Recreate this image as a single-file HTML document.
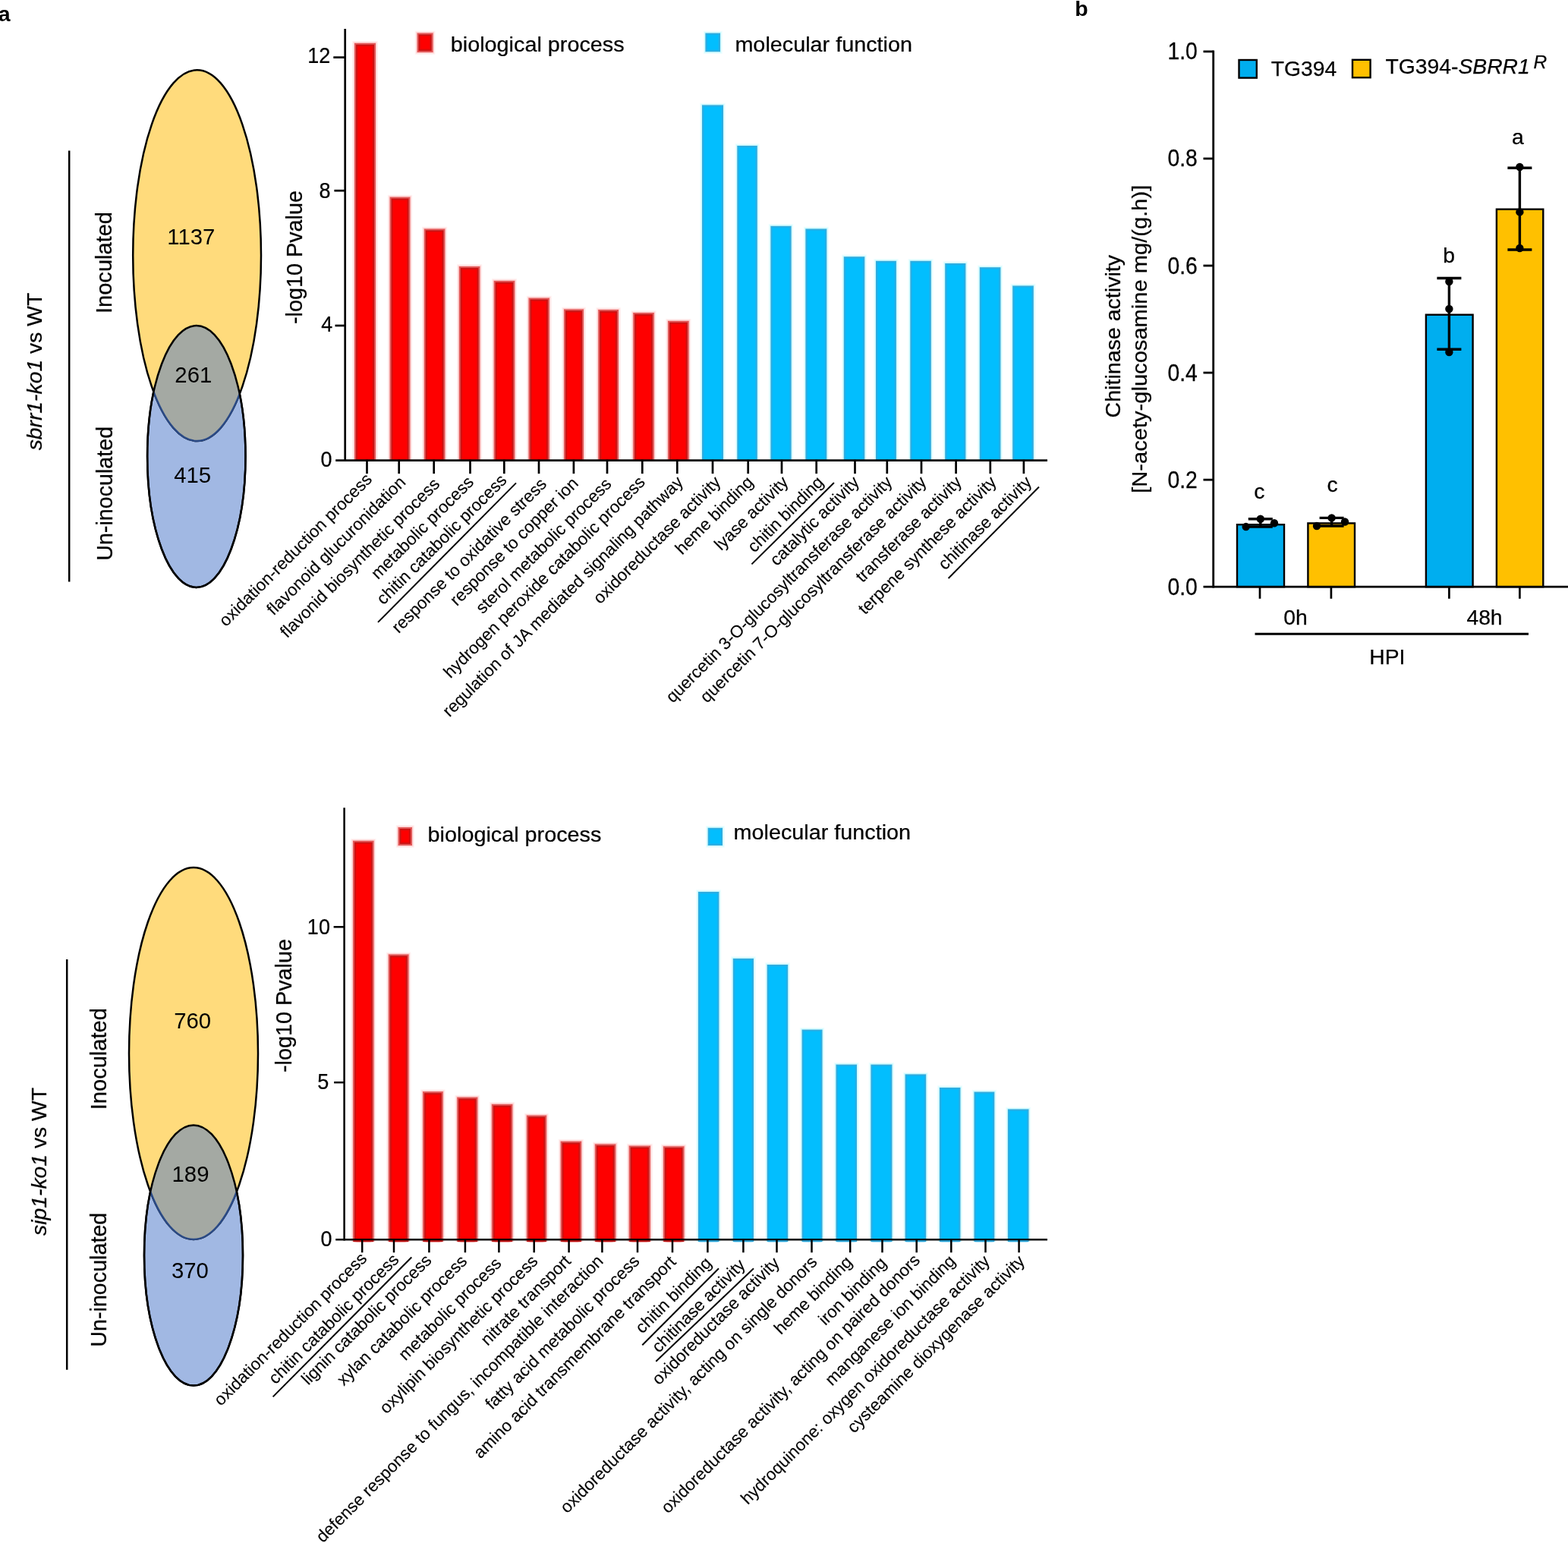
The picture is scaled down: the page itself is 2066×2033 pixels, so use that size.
<!DOCTYPE html>
<html lang="en"><head><meta charset="utf-8"><title>Figure</title>
<style>html,body{margin:0;padding:0;background:#fff}svg{display:block}text{white-space:pre}</style>
</head><body>
<svg width="2066" height="2033" viewBox="0 0 2066 2033" font-family='"Liberation Sans", Arial, Helvetica, sans-serif' fill="#000">
<rect width="2066" height="2033" fill="#fff"/>
<text x="-2.20" y="28.00" font-size="28.5" font-weight="bold">a</text>
<text x="1416.30" y="20.60" font-size="28.5" font-weight="bold">b</text>
<defs><clipPath id="cy1"><ellipse cx="259.6" cy="336.6" rx="84.4" ry="244.4"/></clipPath><clipPath id="cb1"><ellipse cx="258.8" cy="601.5" rx="64.7" ry="172.5"/></clipPath></defs>
<ellipse cx="258.8" cy="601.5" rx="64.7" ry="172.5" fill="#a1b8e3" stroke="#000" stroke-width="2.5"/>
<ellipse cx="259.6" cy="336.6" rx="84.4" ry="244.4" fill="#ffdb7c" stroke="#000" stroke-width="2.5"/>
<ellipse cx="258.8" cy="601.5" rx="64.7" ry="172.5" fill="#a4a9a3" clip-path="url(#cy1)"/>
<ellipse cx="259.6" cy="336.6" rx="84.4" ry="244.4" fill="none" stroke="#2a4a86" stroke-width="2.5" clip-path="url(#cb1)"/>
<ellipse cx="258.8" cy="601.5" rx="64.7" ry="172.5" fill="none" stroke="#000" stroke-width="2.5"/>
<text transform="translate(251.80 322.40) scale(1.0 1.0)" font-size="29.3" text-anchor="middle">1137</text>
<text transform="translate(254.80 503.70) scale(1.0 1.0)" font-size="29.3" text-anchor="middle">261</text>
<text transform="translate(253.70 636.00) scale(1.0 1.0)" font-size="29.3" text-anchor="middle">415</text>
<text transform="translate(147.40 346.00) rotate(-90) scale(0.985 1.0)" font-size="29.5" text-anchor="middle" stroke="#000" stroke-width="0.25">Inoculated</text>
<text transform="translate(147.80 650.30) rotate(-90) scale(0.973 1.0)" font-size="29.5" text-anchor="middle" stroke="#000" stroke-width="0.25">Un-inoculated</text>
<line x1="91.20" y1="198.50" x2="91.20" y2="766.50" stroke="#000" stroke-width="2.5"/>
<text transform="translate(55.20 489.60) rotate(-90)" font-size="28.3" text-anchor="middle" stroke="#000" stroke-width="0.25"><tspan font-style="italic">sbrr1-ko1</tspan> vs WT</text>
<rect x="464.20" y="54.00" width="33.60" height="552.60" fill="#fff1f1"/>
<rect x="465.60" y="55.40" width="30.80" height="551.20" fill="#ffd2d2"/>
<rect x="467.00" y="56.80" width="28.00" height="549.80" fill="#e15858"/>
<rect x="469.00" y="58.80" width="24.00" height="547.80" fill="#c61212"/>
<rect x="470.50" y="60.30" width="21.00" height="546.30" fill="#ea0808"/>
<rect x="471.80" y="61.60" width="18.40" height="545.00" fill="#fe0000"/>
<rect x="510.80" y="256.80" width="32.40" height="349.80" fill="#fff1f1"/>
<rect x="512.20" y="258.20" width="29.60" height="348.40" fill="#ffd2d2"/>
<rect x="513.60" y="259.60" width="26.80" height="347.00" fill="#e15858"/>
<rect x="515.60" y="261.60" width="22.80" height="345.00" fill="#c61212"/>
<rect x="517.10" y="263.10" width="19.80" height="343.50" fill="#ea0808"/>
<rect x="518.40" y="264.40" width="17.20" height="342.20" fill="#fe0000"/>
<rect x="556.00" y="298.70" width="33.20" height="307.90" fill="#fff1f1"/>
<rect x="557.40" y="300.10" width="30.40" height="306.50" fill="#ffd2d2"/>
<rect x="558.80" y="301.50" width="27.60" height="305.10" fill="#e15858"/>
<rect x="560.80" y="303.50" width="23.60" height="303.10" fill="#c61212"/>
<rect x="562.30" y="305.00" width="20.60" height="301.60" fill="#ea0808"/>
<rect x="563.60" y="306.30" width="18.00" height="300.30" fill="#fe0000"/>
<rect x="602.00" y="348.20" width="33.20" height="258.40" fill="#fff1f1"/>
<rect x="603.40" y="349.60" width="30.40" height="257.00" fill="#ffd2d2"/>
<rect x="604.80" y="351.00" width="27.60" height="255.60" fill="#e15858"/>
<rect x="606.80" y="353.00" width="23.60" height="253.60" fill="#c61212"/>
<rect x="608.30" y="354.50" width="20.60" height="252.10" fill="#ea0808"/>
<rect x="609.60" y="355.80" width="18.00" height="250.80" fill="#fe0000"/>
<rect x="647.90" y="367.10" width="33.20" height="239.50" fill="#fff1f1"/>
<rect x="649.30" y="368.50" width="30.40" height="238.10" fill="#ffd2d2"/>
<rect x="650.70" y="369.90" width="27.60" height="236.70" fill="#e15858"/>
<rect x="652.70" y="371.90" width="23.60" height="234.70" fill="#c61212"/>
<rect x="654.20" y="373.40" width="20.60" height="233.20" fill="#ea0808"/>
<rect x="655.50" y="374.70" width="18.00" height="231.90" fill="#fe0000"/>
<rect x="693.70" y="389.80" width="33.00" height="216.80" fill="#fff1f1"/>
<rect x="695.10" y="391.20" width="30.20" height="215.40" fill="#ffd2d2"/>
<rect x="696.50" y="392.60" width="27.40" height="214.00" fill="#e15858"/>
<rect x="698.50" y="394.60" width="23.40" height="212.00" fill="#c61212"/>
<rect x="700.00" y="396.10" width="20.40" height="210.50" fill="#ea0808"/>
<rect x="701.30" y="397.40" width="17.80" height="209.20" fill="#fe0000"/>
<rect x="740.20" y="404.60" width="31.60" height="202.00" fill="#fff1f1"/>
<rect x="741.60" y="406.00" width="28.80" height="200.60" fill="#ffd2d2"/>
<rect x="743.00" y="407.40" width="26.00" height="199.20" fill="#e15858"/>
<rect x="745.00" y="409.40" width="22.00" height="197.20" fill="#c61212"/>
<rect x="746.50" y="410.90" width="19.00" height="195.70" fill="#ea0808"/>
<rect x="747.80" y="412.20" width="16.40" height="194.40" fill="#fe0000"/>
<rect x="785.40" y="405.20" width="32.40" height="201.40" fill="#fff1f1"/>
<rect x="786.80" y="406.60" width="29.60" height="200.00" fill="#ffd2d2"/>
<rect x="788.20" y="408.00" width="26.80" height="198.60" fill="#e15858"/>
<rect x="790.20" y="410.00" width="22.80" height="196.60" fill="#c61212"/>
<rect x="791.70" y="411.50" width="19.80" height="195.10" fill="#ea0808"/>
<rect x="793.00" y="412.80" width="17.20" height="193.80" fill="#fe0000"/>
<rect x="831.40" y="409.20" width="33.20" height="197.40" fill="#fff1f1"/>
<rect x="832.80" y="410.60" width="30.40" height="196.00" fill="#ffd2d2"/>
<rect x="834.20" y="412.00" width="27.60" height="194.60" fill="#e15858"/>
<rect x="836.20" y="414.00" width="23.60" height="192.60" fill="#c61212"/>
<rect x="837.70" y="415.50" width="20.60" height="191.10" fill="#ea0808"/>
<rect x="839.00" y="416.80" width="18.00" height="189.80" fill="#fe0000"/>
<rect x="877.20" y="420.00" width="33.30" height="186.60" fill="#fff1f1"/>
<rect x="878.60" y="421.40" width="30.50" height="185.20" fill="#ffd2d2"/>
<rect x="880.00" y="422.80" width="27.70" height="183.80" fill="#e15858"/>
<rect x="882.00" y="424.80" width="23.70" height="181.80" fill="#c61212"/>
<rect x="883.50" y="426.30" width="20.70" height="180.30" fill="#ea0808"/>
<rect x="884.80" y="427.60" width="18.10" height="179.00" fill="#fe0000"/>
<rect x="922.20" y="135.60" width="33.60" height="471.00" fill="#effeff"/>
<rect x="923.60" y="137.00" width="30.80" height="469.60" fill="#cdfaff"/>
<rect x="925.00" y="138.40" width="28.00" height="468.20" fill="#35abdc"/>
<rect x="926.50" y="139.90" width="25.00" height="466.70" fill="#16b4f0"/>
<rect x="927.80" y="141.20" width="22.40" height="465.40" fill="#02befe"/>
<rect x="968.50" y="189.20" width="32.10" height="417.40" fill="#effeff"/>
<rect x="969.90" y="190.60" width="29.30" height="416.00" fill="#cdfaff"/>
<rect x="971.30" y="192.00" width="26.50" height="414.60" fill="#35abdc"/>
<rect x="972.80" y="193.50" width="23.50" height="413.10" fill="#16b4f0"/>
<rect x="974.10" y="194.80" width="20.90" height="411.80" fill="#02befe"/>
<rect x="1012.60" y="295.00" width="32.80" height="311.60" fill="#effeff"/>
<rect x="1014.00" y="296.40" width="30.00" height="310.20" fill="#cdfaff"/>
<rect x="1015.40" y="297.80" width="27.20" height="308.80" fill="#35abdc"/>
<rect x="1016.90" y="299.30" width="24.20" height="307.30" fill="#16b4f0"/>
<rect x="1018.20" y="300.60" width="21.60" height="306.00" fill="#02befe"/>
<rect x="1058.60" y="298.70" width="33.50" height="307.90" fill="#effeff"/>
<rect x="1060.00" y="300.10" width="30.70" height="306.50" fill="#cdfaff"/>
<rect x="1061.40" y="301.50" width="27.90" height="305.10" fill="#35abdc"/>
<rect x="1062.90" y="303.00" width="24.90" height="303.60" fill="#16b4f0"/>
<rect x="1064.20" y="304.30" width="22.30" height="302.30" fill="#02befe"/>
<rect x="1109.00" y="335.40" width="33.10" height="271.20" fill="#effeff"/>
<rect x="1110.40" y="336.80" width="30.30" height="269.80" fill="#cdfaff"/>
<rect x="1111.80" y="338.20" width="27.50" height="268.40" fill="#35abdc"/>
<rect x="1113.30" y="339.70" width="24.50" height="266.90" fill="#16b4f0"/>
<rect x="1114.60" y="341.00" width="21.90" height="265.60" fill="#02befe"/>
<rect x="1151.20" y="341.00" width="32.50" height="265.60" fill="#effeff"/>
<rect x="1152.60" y="342.40" width="29.70" height="264.20" fill="#cdfaff"/>
<rect x="1154.00" y="343.80" width="26.90" height="262.80" fill="#35abdc"/>
<rect x="1155.50" y="345.30" width="23.90" height="261.30" fill="#16b4f0"/>
<rect x="1156.80" y="346.60" width="21.30" height="260.00" fill="#02befe"/>
<rect x="1196.50" y="341.00" width="33.10" height="265.60" fill="#effeff"/>
<rect x="1197.90" y="342.40" width="30.30" height="264.20" fill="#cdfaff"/>
<rect x="1199.30" y="343.80" width="27.50" height="262.80" fill="#35abdc"/>
<rect x="1200.80" y="345.30" width="24.50" height="261.30" fill="#16b4f0"/>
<rect x="1202.10" y="346.60" width="21.90" height="260.00" fill="#02befe"/>
<rect x="1242.40" y="344.20" width="32.80" height="262.40" fill="#effeff"/>
<rect x="1243.80" y="345.60" width="30.00" height="261.00" fill="#cdfaff"/>
<rect x="1245.20" y="347.00" width="27.20" height="259.60" fill="#35abdc"/>
<rect x="1246.70" y="348.50" width="24.20" height="258.10" fill="#16b4f0"/>
<rect x="1248.00" y="349.80" width="21.60" height="256.80" fill="#02befe"/>
<rect x="1288.00" y="349.40" width="33.20" height="257.20" fill="#effeff"/>
<rect x="1289.40" y="350.80" width="30.40" height="255.80" fill="#cdfaff"/>
<rect x="1290.80" y="352.20" width="27.60" height="254.40" fill="#35abdc"/>
<rect x="1292.30" y="353.70" width="24.60" height="252.90" fill="#16b4f0"/>
<rect x="1293.60" y="355.00" width="22.00" height="251.60" fill="#02befe"/>
<rect x="1331.40" y="373.70" width="33.20" height="232.90" fill="#effeff"/>
<rect x="1332.80" y="375.10" width="30.40" height="231.50" fill="#cdfaff"/>
<rect x="1334.20" y="376.50" width="27.60" height="230.10" fill="#35abdc"/>
<rect x="1335.70" y="378.00" width="24.60" height="228.60" fill="#16b4f0"/>
<rect x="1337.00" y="379.30" width="22.00" height="227.30" fill="#02befe"/>
<line x1="454.70" y1="37.90" x2="454.70" y2="607.95" stroke="#000" stroke-width="2.7"/>
<line x1="442.20" y1="606.60" x2="1380.00" y2="606.60" stroke="#000" stroke-width="2.7"/>
<line x1="439.30" y1="75.60" x2="454.70" y2="75.60" stroke="#000" stroke-width="2.7"/>
<text transform="translate(435.20 83.00) scale(0.9 0.985)" font-size="30" text-anchor="end" stroke="#000" stroke-width="0.25">12</text>
<line x1="440.40" y1="251.20" x2="454.70" y2="251.20" stroke="#000" stroke-width="2.7"/>
<text transform="translate(435.40 260.60) scale(0.9 0.985)" font-size="30" text-anchor="end" stroke="#000" stroke-width="0.25">8</text>
<line x1="441.50" y1="429.00" x2="454.70" y2="429.00" stroke="#000" stroke-width="2.7"/>
<text transform="translate(438.20 436.80) scale(0.9 0.985)" font-size="30" text-anchor="end" stroke="#000" stroke-width="0.25">4</text>
<text transform="translate(437.50 614.80) scale(0.9 0.985)" font-size="30" text-anchor="end" stroke="#000" stroke-width="0.25">0</text>
<line x1="483.50" y1="606.60" x2="483.50" y2="624.10" stroke="#000" stroke-width="2.7"/>
<line x1="525.70" y1="606.60" x2="525.70" y2="624.10" stroke="#000" stroke-width="2.7"/>
<line x1="571.70" y1="606.60" x2="571.70" y2="624.10" stroke="#000" stroke-width="2.7"/>
<line x1="619.50" y1="606.60" x2="619.50" y2="624.10" stroke="#000" stroke-width="2.7"/>
<line x1="664.30" y1="606.60" x2="664.30" y2="624.10" stroke="#000" stroke-width="2.7"/>
<line x1="710.00" y1="606.60" x2="710.00" y2="624.10" stroke="#000" stroke-width="2.7"/>
<line x1="755.90" y1="606.60" x2="755.90" y2="624.10" stroke="#000" stroke-width="2.7"/>
<line x1="800.00" y1="606.60" x2="800.00" y2="624.10" stroke="#000" stroke-width="2.7"/>
<line x1="846.30" y1="606.60" x2="846.30" y2="624.10" stroke="#000" stroke-width="2.7"/>
<line x1="892.30" y1="606.60" x2="892.30" y2="624.10" stroke="#000" stroke-width="2.7"/>
<line x1="939.00" y1="606.60" x2="939.00" y2="624.10" stroke="#000" stroke-width="2.7"/>
<line x1="985.70" y1="606.60" x2="985.70" y2="624.10" stroke="#000" stroke-width="2.7"/>
<line x1="1030.00" y1="606.60" x2="1030.00" y2="624.10" stroke="#000" stroke-width="2.7"/>
<line x1="1075.70" y1="606.60" x2="1075.70" y2="624.10" stroke="#000" stroke-width="2.7"/>
<line x1="1126.50" y1="606.60" x2="1126.50" y2="624.10" stroke="#000" stroke-width="2.7"/>
<line x1="1168.80" y1="606.60" x2="1168.80" y2="624.10" stroke="#000" stroke-width="2.7"/>
<line x1="1214.00" y1="606.60" x2="1214.00" y2="624.10" stroke="#000" stroke-width="2.7"/>
<line x1="1259.60" y1="606.60" x2="1259.60" y2="624.10" stroke="#000" stroke-width="2.7"/>
<line x1="1304.80" y1="606.60" x2="1304.80" y2="624.10" stroke="#000" stroke-width="2.7"/>
<line x1="1348.90" y1="606.60" x2="1348.90" y2="624.10" stroke="#000" stroke-width="2.7"/>
<text transform="translate(491.50 632.90) rotate(-45)" font-size="22.4" text-anchor="end" stroke="#000" stroke-width="0.12">oxidation-reduction process</text>
<text transform="translate(535.70 636.60) rotate(-45)" font-size="22.4" text-anchor="end" stroke="#000" stroke-width="0.12">flavonoid glucuronidation</text>
<text transform="translate(580.70 639.10) rotate(-45)" font-size="22.4" text-anchor="end" stroke="#000" stroke-width="0.12">flavonid biosynthetic process</text>
<text transform="translate(625.50 636.60) rotate(-45)" font-size="22.4" text-anchor="end" stroke="#000" stroke-width="0.12">metabolic process</text>
<text transform="translate(669.00 634.10) rotate(-45)" font-size="22.4" text-anchor="end" stroke="#000" stroke-width="0.12">chitin catabolic process</text>
<text transform="translate(721.50 639.10) rotate(-45)" font-size="22.4" text-anchor="end" stroke="#000" stroke-width="0.12">response to oxidative stress</text>
<text transform="translate(763.20 638.10) rotate(-45)" font-size="22.4" text-anchor="end" stroke="#000" stroke-width="0.12">response to copper ion</text>
<text transform="translate(806.80 639.10) rotate(-45)" font-size="22.4" text-anchor="end" stroke="#000" stroke-width="0.12">sterol metabolic process</text>
<text transform="translate(851.30 636.60) rotate(-45)" font-size="22.4" text-anchor="end" stroke="#000" stroke-width="0.12">hydrogen peroxide catabolic process</text>
<text transform="translate(901.30 636.60) rotate(-45)" font-size="22.4" text-anchor="end" stroke="#000" stroke-width="0.12">regulation of JA mediated signaling pathway</text>
<text transform="translate(951.00 636.60) rotate(-45)" font-size="22.4" text-anchor="end" stroke="#000" stroke-width="0.12">oxidoreductase activity</text>
<text transform="translate(993.70 636.60) rotate(-45)" font-size="22.4" text-anchor="end" stroke="#000" stroke-width="0.12">heme binding</text>
<text transform="translate(1040.00 636.60) rotate(-45)" font-size="22.4" text-anchor="end" stroke="#000" stroke-width="0.12">lyase activity</text>
<text transform="translate(1086.40 636.60) rotate(-45)" font-size="22.4" text-anchor="end" stroke="#000" stroke-width="0.12">chitin binding</text>
<text transform="translate(1133.50 636.60) rotate(-45)" font-size="22.4" text-anchor="end" stroke="#000" stroke-width="0.12">catalytic activity</text>
<text transform="translate(1176.80 636.60) rotate(-45)" font-size="22.4" text-anchor="end" stroke="#000" stroke-width="0.12">quercetin 3-O-glucosyltransferase activity</text>
<text transform="translate(1222.00 636.60) rotate(-45)" font-size="22.4" text-anchor="end" stroke="#000" stroke-width="0.12">quercetin 7-O-glucosyltransferase activity</text>
<text transform="translate(1268.40 636.60) rotate(-45)" font-size="22.4" text-anchor="end" stroke="#000" stroke-width="0.12">transferase activity</text>
<text transform="translate(1314.10 636.60) rotate(-45)" font-size="22.4" text-anchor="end" stroke="#000" stroke-width="0.12">terpene synthese activity</text>
<text transform="translate(1360.60 636.60) rotate(-45)" font-size="22.4" text-anchor="end" stroke="#000" stroke-width="0.12">chitinase activity</text>
<rect x="546.80" y="40.70" width="26.60" height="31.10" fill="#fff1f1"/>
<rect x="548.20" y="42.10" width="23.80" height="28.30" fill="#ffd2d2"/>
<rect x="549.60" y="43.50" width="21.00" height="25.50" fill="#e15858"/>
<rect x="551.60" y="45.50" width="17.00" height="21.50" fill="#c61212"/>
<rect x="553.10" y="47.00" width="14.00" height="18.50" fill="#ea0808"/>
<rect x="554.40" y="48.30" width="11.40" height="15.90" fill="#fe0000"/>
<text transform="translate(593.80 68.00) scale(1.0 0.955)" font-size="28.8" stroke="#000" stroke-width="0.25">biological process</text>
<rect x="926.60" y="40.80" width="25.20" height="30.20" fill="#effeff"/>
<rect x="928.00" y="42.20" width="22.40" height="27.40" fill="#cdfaff"/>
<rect x="929.40" y="43.60" width="19.60" height="24.60" fill="#35abdc"/>
<rect x="930.90" y="45.10" width="16.60" height="21.60" fill="#16b4f0"/>
<rect x="932.20" y="46.40" width="14.00" height="19.00" fill="#02befe"/>
<text transform="translate(968.40 68.00) scale(1.0 0.955)" font-size="28.8" stroke="#000" stroke-width="0.25">molecular function</text>
<text transform="translate(397.50 339.00) rotate(-90)" font-size="28.8" text-anchor="middle" stroke="#000" stroke-width="0.25">-log10 Pvalue</text>
<line x1="498.00" y1="819.90" x2="680.00" y2="636.40" stroke="#000" stroke-width="2.0"/>
<line x1="990.40" y1="743.40" x2="1098.90" y2="636.00" stroke="#000" stroke-width="2.0"/>
<line x1="1249.60" y1="762.00" x2="1369.00" y2="641.50" stroke="#000" stroke-width="2.0"/>
<defs><clipPath id="cy2"><ellipse cx="255" cy="1388" rx="85" ry="245"/></clipPath><clipPath id="cb2"><ellipse cx="255" cy="1654" rx="65" ry="171.6"/></clipPath></defs>
<ellipse cx="255" cy="1654" rx="65" ry="171.6" fill="#a1b8e3" stroke="#000" stroke-width="2.5"/>
<ellipse cx="255" cy="1388" rx="85" ry="245" fill="#ffdb7c" stroke="#000" stroke-width="2.5"/>
<ellipse cx="255" cy="1654" rx="65" ry="171.6" fill="#a4a9a3" clip-path="url(#cy2)"/>
<ellipse cx="255" cy="1388" rx="85" ry="245" fill="none" stroke="#2a4a86" stroke-width="2.5" clip-path="url(#cb2)"/>
<ellipse cx="255" cy="1654" rx="65" ry="171.6" fill="none" stroke="#000" stroke-width="2.5"/>
<text transform="translate(253.70 1354.80) scale(1.0 1.0)" font-size="29.3" text-anchor="middle">760</text>
<text transform="translate(251.00 1556.90) scale(1.0 1.0)" font-size="29.3" text-anchor="middle">189</text>
<text transform="translate(250.40 1683.70) scale(1.0 1.0)" font-size="29.3" text-anchor="middle">370</text>
<text transform="translate(140.20 1395.20) rotate(-90) scale(0.985 1.0)" font-size="29.5" text-anchor="middle" stroke="#000" stroke-width="0.25">Inoculated</text>
<text transform="translate(140.40 1686.20) rotate(-90) scale(0.973 1.0)" font-size="29.5" text-anchor="middle" stroke="#000" stroke-width="0.25">Un-inoculated</text>
<line x1="88.20" y1="1264.00" x2="88.20" y2="1804.70" stroke="#000" stroke-width="2.5"/>
<text transform="translate(60.80 1530.40) rotate(-90)" font-size="28.3" text-anchor="middle" stroke="#000" stroke-width="0.25"><tspan font-style="italic">sip1-ko1</tspan> vs WT</text>
<rect x="462.20" y="1104.90" width="33.20" height="531.20" fill="#fff1f1"/>
<rect x="463.60" y="1106.30" width="30.40" height="529.80" fill="#ffd2d2"/>
<rect x="465.00" y="1107.70" width="27.60" height="528.40" fill="#e15858"/>
<rect x="467.00" y="1109.70" width="23.60" height="526.40" fill="#c61212"/>
<rect x="468.50" y="1111.20" width="20.60" height="524.90" fill="#ea0808"/>
<rect x="469.80" y="1112.50" width="18.00" height="523.60" fill="#fe0000"/>
<rect x="509.00" y="1254.60" width="32.40" height="381.50" fill="#fff1f1"/>
<rect x="510.40" y="1256.00" width="29.60" height="380.10" fill="#ffd2d2"/>
<rect x="511.80" y="1257.40" width="26.80" height="378.70" fill="#e15858"/>
<rect x="513.80" y="1259.40" width="22.80" height="376.70" fill="#c61212"/>
<rect x="515.30" y="1260.90" width="19.80" height="375.20" fill="#ea0808"/>
<rect x="516.60" y="1262.20" width="17.20" height="373.90" fill="#fe0000"/>
<rect x="554.20" y="1435.40" width="32.40" height="200.70" fill="#fff1f1"/>
<rect x="555.60" y="1436.80" width="29.60" height="199.30" fill="#ffd2d2"/>
<rect x="557.00" y="1438.20" width="26.80" height="197.90" fill="#e15858"/>
<rect x="559.00" y="1440.20" width="22.80" height="195.90" fill="#c61212"/>
<rect x="560.50" y="1441.70" width="19.80" height="194.40" fill="#ea0808"/>
<rect x="561.80" y="1443.00" width="17.20" height="193.10" fill="#fe0000"/>
<rect x="599.40" y="1442.80" width="32.80" height="193.30" fill="#fff1f1"/>
<rect x="600.80" y="1444.20" width="30.00" height="191.90" fill="#ffd2d2"/>
<rect x="602.20" y="1445.60" width="27.20" height="190.50" fill="#e15858"/>
<rect x="604.20" y="1447.60" width="23.20" height="188.50" fill="#c61212"/>
<rect x="605.70" y="1449.10" width="20.20" height="187.00" fill="#ea0808"/>
<rect x="607.00" y="1450.40" width="17.60" height="185.70" fill="#fe0000"/>
<rect x="645.00" y="1452.00" width="33.20" height="184.10" fill="#fff1f1"/>
<rect x="646.40" y="1453.40" width="30.40" height="182.70" fill="#ffd2d2"/>
<rect x="647.80" y="1454.80" width="27.60" height="181.30" fill="#e15858"/>
<rect x="649.80" y="1456.80" width="23.60" height="179.30" fill="#c61212"/>
<rect x="651.30" y="1458.30" width="20.60" height="177.80" fill="#ea0808"/>
<rect x="652.60" y="1459.60" width="18.00" height="176.50" fill="#fe0000"/>
<rect x="691.00" y="1466.70" width="32.00" height="169.40" fill="#fff1f1"/>
<rect x="692.40" y="1468.10" width="29.20" height="168.00" fill="#ffd2d2"/>
<rect x="693.80" y="1469.50" width="26.40" height="166.60" fill="#e15858"/>
<rect x="695.80" y="1471.50" width="22.40" height="164.60" fill="#c61212"/>
<rect x="697.30" y="1473.00" width="19.40" height="163.10" fill="#ea0808"/>
<rect x="698.60" y="1474.30" width="16.80" height="161.80" fill="#fe0000"/>
<rect x="735.80" y="1500.90" width="33.20" height="135.20" fill="#fff1f1"/>
<rect x="737.20" y="1502.30" width="30.40" height="133.80" fill="#ffd2d2"/>
<rect x="738.60" y="1503.70" width="27.60" height="132.40" fill="#e15858"/>
<rect x="740.60" y="1505.70" width="23.60" height="130.40" fill="#c61212"/>
<rect x="742.10" y="1507.20" width="20.60" height="128.90" fill="#ea0808"/>
<rect x="743.40" y="1508.50" width="18.00" height="127.60" fill="#fe0000"/>
<rect x="781.00" y="1504.60" width="33.20" height="131.50" fill="#fff1f1"/>
<rect x="782.40" y="1506.00" width="30.40" height="130.10" fill="#ffd2d2"/>
<rect x="783.80" y="1507.40" width="27.60" height="128.70" fill="#e15858"/>
<rect x="785.80" y="1509.40" width="23.60" height="126.70" fill="#c61212"/>
<rect x="787.30" y="1510.90" width="20.60" height="125.20" fill="#ea0808"/>
<rect x="788.60" y="1512.20" width="18.00" height="123.90" fill="#fe0000"/>
<rect x="825.90" y="1506.80" width="33.90" height="129.30" fill="#fff1f1"/>
<rect x="827.30" y="1508.20" width="31.10" height="127.90" fill="#ffd2d2"/>
<rect x="828.70" y="1509.60" width="28.30" height="126.50" fill="#e15858"/>
<rect x="830.70" y="1511.60" width="24.30" height="124.50" fill="#c61212"/>
<rect x="832.20" y="1513.10" width="21.30" height="123.00" fill="#ea0808"/>
<rect x="833.50" y="1514.40" width="18.70" height="121.70" fill="#fe0000"/>
<rect x="871.10" y="1507.50" width="33.20" height="128.60" fill="#fff1f1"/>
<rect x="872.50" y="1508.90" width="30.40" height="127.20" fill="#ffd2d2"/>
<rect x="873.90" y="1510.30" width="27.60" height="125.80" fill="#e15858"/>
<rect x="875.90" y="1512.30" width="23.60" height="123.80" fill="#c61212"/>
<rect x="877.40" y="1513.80" width="20.60" height="122.30" fill="#ea0808"/>
<rect x="878.70" y="1515.10" width="18.00" height="121.00" fill="#fe0000"/>
<rect x="917.10" y="1172.20" width="33.10" height="463.90" fill="#effeff"/>
<rect x="918.50" y="1173.60" width="30.30" height="462.50" fill="#cdfaff"/>
<rect x="919.90" y="1175.00" width="27.50" height="461.10" fill="#35abdc"/>
<rect x="921.40" y="1176.50" width="24.50" height="459.60" fill="#16b4f0"/>
<rect x="922.70" y="1177.80" width="21.90" height="458.30" fill="#02befe"/>
<rect x="963.00" y="1260.10" width="32.80" height="376.00" fill="#effeff"/>
<rect x="964.40" y="1261.50" width="30.00" height="374.60" fill="#cdfaff"/>
<rect x="965.80" y="1262.90" width="27.20" height="373.20" fill="#35abdc"/>
<rect x="967.30" y="1264.40" width="24.20" height="371.70" fill="#16b4f0"/>
<rect x="968.60" y="1265.70" width="21.60" height="370.40" fill="#02befe"/>
<rect x="1007.90" y="1268.20" width="33.10" height="367.90" fill="#effeff"/>
<rect x="1009.30" y="1269.60" width="30.30" height="366.50" fill="#cdfaff"/>
<rect x="1010.70" y="1271.00" width="27.50" height="365.10" fill="#35abdc"/>
<rect x="1012.20" y="1272.50" width="24.50" height="363.60" fill="#16b4f0"/>
<rect x="1013.50" y="1273.80" width="21.90" height="362.30" fill="#02befe"/>
<rect x="1053.80" y="1353.80" width="32.50" height="282.30" fill="#effeff"/>
<rect x="1055.20" y="1355.20" width="29.70" height="280.90" fill="#cdfaff"/>
<rect x="1056.60" y="1356.60" width="26.90" height="279.50" fill="#35abdc"/>
<rect x="1058.10" y="1358.10" width="23.90" height="278.00" fill="#16b4f0"/>
<rect x="1059.40" y="1359.40" width="21.30" height="276.70" fill="#02befe"/>
<rect x="1098.70" y="1399.80" width="33.10" height="236.30" fill="#effeff"/>
<rect x="1100.10" y="1401.20" width="30.30" height="234.90" fill="#cdfaff"/>
<rect x="1101.50" y="1402.60" width="27.50" height="233.50" fill="#35abdc"/>
<rect x="1103.00" y="1404.10" width="24.50" height="232.00" fill="#16b4f0"/>
<rect x="1104.30" y="1405.40" width="21.90" height="230.70" fill="#02befe"/>
<rect x="1144.60" y="1399.80" width="33.60" height="236.30" fill="#effeff"/>
<rect x="1146.00" y="1401.20" width="30.80" height="234.90" fill="#cdfaff"/>
<rect x="1147.40" y="1402.60" width="28.00" height="233.50" fill="#35abdc"/>
<rect x="1148.90" y="1404.10" width="25.00" height="232.00" fill="#16b4f0"/>
<rect x="1150.20" y="1405.40" width="22.40" height="230.70" fill="#02befe"/>
<rect x="1189.80" y="1412.60" width="33.20" height="223.50" fill="#effeff"/>
<rect x="1191.20" y="1414.00" width="30.40" height="222.10" fill="#cdfaff"/>
<rect x="1192.60" y="1415.40" width="27.60" height="220.70" fill="#35abdc"/>
<rect x="1194.10" y="1416.90" width="24.60" height="219.20" fill="#16b4f0"/>
<rect x="1195.40" y="1418.20" width="22.00" height="217.90" fill="#02befe"/>
<rect x="1235.10" y="1430.20" width="33.10" height="205.90" fill="#effeff"/>
<rect x="1236.50" y="1431.60" width="30.30" height="204.50" fill="#cdfaff"/>
<rect x="1237.90" y="1433.00" width="27.50" height="203.10" fill="#35abdc"/>
<rect x="1239.40" y="1434.50" width="24.50" height="201.60" fill="#16b4f0"/>
<rect x="1240.70" y="1435.80" width="21.90" height="200.30" fill="#02befe"/>
<rect x="1280.70" y="1435.80" width="32.40" height="200.30" fill="#effeff"/>
<rect x="1282.10" y="1437.20" width="29.60" height="198.90" fill="#cdfaff"/>
<rect x="1283.50" y="1438.60" width="26.80" height="197.50" fill="#35abdc"/>
<rect x="1285.00" y="1440.10" width="23.80" height="196.00" fill="#16b4f0"/>
<rect x="1286.30" y="1441.40" width="21.20" height="194.70" fill="#02befe"/>
<rect x="1325.10" y="1458.60" width="33.20" height="177.50" fill="#effeff"/>
<rect x="1326.50" y="1460.00" width="30.40" height="176.10" fill="#cdfaff"/>
<rect x="1327.90" y="1461.40" width="27.60" height="174.70" fill="#35abdc"/>
<rect x="1329.40" y="1462.90" width="24.60" height="173.20" fill="#16b4f0"/>
<rect x="1330.70" y="1464.20" width="22.00" height="171.90" fill="#02befe"/>
<line x1="453.60" y1="1064.30" x2="453.60" y2="1634.55" stroke="#000" stroke-width="2.5"/>
<line x1="442.20" y1="1633.30" x2="1380.00" y2="1633.30" stroke="#000" stroke-width="2.5"/>
<rect x="465.60" y="1634.35" width="26.40" height="1.75" fill="#b41010"/>
<rect x="512.40" y="1634.35" width="25.60" height="1.75" fill="#b41010"/>
<rect x="557.60" y="1634.35" width="25.60" height="1.75" fill="#b41010"/>
<rect x="602.80" y="1634.35" width="26.00" height="1.75" fill="#b41010"/>
<rect x="648.40" y="1634.35" width="26.40" height="1.75" fill="#b41010"/>
<rect x="694.40" y="1634.35" width="25.20" height="1.75" fill="#b41010"/>
<rect x="739.20" y="1634.35" width="26.40" height="1.75" fill="#b41010"/>
<rect x="784.40" y="1634.35" width="26.40" height="1.75" fill="#b41010"/>
<rect x="829.30" y="1634.35" width="27.10" height="1.75" fill="#b41010"/>
<rect x="874.50" y="1634.35" width="26.40" height="1.75" fill="#b41010"/>
<rect x="920.50" y="1634.35" width="26.30" height="1.75" fill="#2a9fd2"/>
<rect x="966.40" y="1634.35" width="26.00" height="1.75" fill="#2a9fd2"/>
<rect x="1011.30" y="1634.35" width="26.30" height="1.75" fill="#2a9fd2"/>
<rect x="1057.20" y="1634.35" width="25.70" height="1.75" fill="#2a9fd2"/>
<rect x="1102.10" y="1634.35" width="26.30" height="1.75" fill="#2a9fd2"/>
<rect x="1148.00" y="1634.35" width="26.80" height="1.75" fill="#2a9fd2"/>
<rect x="1193.20" y="1634.35" width="26.40" height="1.75" fill="#2a9fd2"/>
<rect x="1238.50" y="1634.35" width="26.30" height="1.75" fill="#2a9fd2"/>
<rect x="1284.10" y="1634.35" width="25.60" height="1.75" fill="#2a9fd2"/>
<rect x="1328.50" y="1634.35" width="26.40" height="1.75" fill="#2a9fd2"/>
<line x1="439.60" y1="1221.30" x2="453.60" y2="1221.30" stroke="#000" stroke-width="2.5"/>
<text transform="translate(434.90 1230.90) scale(0.9 0.985)" font-size="30" text-anchor="end" stroke="#000" stroke-width="0.25">10</text>
<line x1="440.10" y1="1426.20" x2="453.60" y2="1426.20" stroke="#000" stroke-width="2.5"/>
<text transform="translate(433.30 1434.80) scale(0.9 0.985)" font-size="30" text-anchor="end" stroke="#000" stroke-width="0.25">5</text>
<text transform="translate(437.50 1641.80) scale(0.9 0.985)" font-size="30" text-anchor="end" stroke="#000" stroke-width="0.25">0</text>
<line x1="477.20" y1="1633.30" x2="477.20" y2="1650.30" stroke="#000" stroke-width="2.5"/>
<line x1="519.00" y1="1633.30" x2="519.00" y2="1650.30" stroke="#000" stroke-width="2.5"/>
<line x1="565.40" y1="1633.30" x2="565.40" y2="1650.30" stroke="#000" stroke-width="2.5"/>
<line x1="612.90" y1="1633.30" x2="612.90" y2="1650.30" stroke="#000" stroke-width="2.5"/>
<line x1="657.40" y1="1633.30" x2="657.40" y2="1650.30" stroke="#000" stroke-width="2.5"/>
<line x1="703.70" y1="1633.30" x2="703.70" y2="1650.30" stroke="#000" stroke-width="2.5"/>
<line x1="749.60" y1="1633.30" x2="749.60" y2="1650.30" stroke="#000" stroke-width="2.5"/>
<line x1="793.40" y1="1633.30" x2="793.40" y2="1650.30" stroke="#000" stroke-width="2.5"/>
<line x1="840.00" y1="1633.30" x2="840.00" y2="1650.30" stroke="#000" stroke-width="2.5"/>
<line x1="886.00" y1="1633.30" x2="886.00" y2="1650.30" stroke="#000" stroke-width="2.5"/>
<line x1="932.40" y1="1633.30" x2="932.40" y2="1650.30" stroke="#000" stroke-width="2.5"/>
<line x1="979.40" y1="1633.30" x2="979.40" y2="1650.30" stroke="#000" stroke-width="2.5"/>
<line x1="1023.50" y1="1633.30" x2="1023.50" y2="1650.30" stroke="#000" stroke-width="2.5"/>
<line x1="1069.50" y1="1633.30" x2="1069.50" y2="1650.30" stroke="#000" stroke-width="2.5"/>
<line x1="1120.20" y1="1633.30" x2="1120.20" y2="1650.30" stroke="#000" stroke-width="2.5"/>
<line x1="1162.50" y1="1633.30" x2="1162.50" y2="1650.30" stroke="#000" stroke-width="2.5"/>
<line x1="1207.70" y1="1633.30" x2="1207.70" y2="1650.30" stroke="#000" stroke-width="2.5"/>
<line x1="1253.30" y1="1633.30" x2="1253.30" y2="1650.30" stroke="#000" stroke-width="2.5"/>
<line x1="1298.50" y1="1633.30" x2="1298.50" y2="1650.30" stroke="#000" stroke-width="2.5"/>
<line x1="1342.60" y1="1633.30" x2="1342.60" y2="1650.30" stroke="#000" stroke-width="2.5"/>
<text transform="translate(484.70 1659.50) rotate(-45)" font-size="22.4" text-anchor="end" stroke="#000" stroke-width="0.12">oxidation-reduction process</text>
<text transform="translate(526.80 1661.00) rotate(-45)" font-size="22.4" text-anchor="end" stroke="#000" stroke-width="0.12">chitin catabolic process</text>
<text transform="translate(569.90 1662.00) rotate(-45)" font-size="22.4" text-anchor="end" stroke="#000" stroke-width="0.12">lignin catabolic process</text>
<text transform="translate(616.70 1663.00) rotate(-45)" font-size="22.4" text-anchor="end" stroke="#000" stroke-width="0.12">xylan catabolic process</text>
<text transform="translate(661.90 1666.00) rotate(-45)" font-size="22.4" text-anchor="end" stroke="#000" stroke-width="0.12">metabolic process</text>
<text transform="translate(710.00 1663.00) rotate(-45)" font-size="22.4" text-anchor="end" stroke="#000" stroke-width="0.12">oxylipin biosynthetic process</text>
<text transform="translate(753.40 1663.00) rotate(-45)" font-size="22.4" text-anchor="end" stroke="#000" stroke-width="0.12">nitrate transport</text>
<text transform="translate(796.00 1663.00) rotate(-45)" font-size="22.4" text-anchor="end" stroke="#000" stroke-width="0.12">defense response to fungus, incompatible interaction</text>
<text transform="translate(843.80 1663.00) rotate(-45)" font-size="22.4" text-anchor="end" stroke="#000" stroke-width="0.12">fatty acid metabolic process</text>
<text transform="translate(891.80 1664.00) rotate(-45)" font-size="22.4" text-anchor="end" stroke="#000" stroke-width="0.12">amino acid transmembrane transport</text>
<text transform="translate(938.70 1665.50) rotate(-45)" font-size="22.4" text-anchor="end" stroke="#000" stroke-width="0.12">chitin binding</text>
<text transform="translate(983.20 1668.00) rotate(-45)" font-size="22.4" text-anchor="end" stroke="#000" stroke-width="0.12">chitinase activity</text>
<text transform="translate(1028.30 1665.50) rotate(-45)" font-size="22.4" text-anchor="end" stroke="#000" stroke-width="0.12">oxidoreductase activity</text>
<text transform="translate(1078.00 1664.20) rotate(-45)" font-size="22.4" text-anchor="end" stroke="#000" stroke-width="0.12">oxidoreductase activity, acting on single donors</text>
<text transform="translate(1124.00 1664.20) rotate(-45)" font-size="22.4" text-anchor="end" stroke="#000" stroke-width="0.12">heme binding</text>
<text transform="translate(1169.30 1665.50) rotate(-45)" font-size="22.4" text-anchor="end" stroke="#000" stroke-width="0.12">iron binding</text>
<text transform="translate(1213.50 1661.80) rotate(-45)" font-size="22.4" text-anchor="end" stroke="#000" stroke-width="0.12">oxidoreductase activity, acting on paired donors</text>
<text transform="translate(1260.10 1663.00) rotate(-45)" font-size="22.4" text-anchor="end" stroke="#000" stroke-width="0.12">manganese ion binding</text>
<text transform="translate(1305.50 1663.00) rotate(-45)" font-size="22.4" text-anchor="end" stroke="#000" stroke-width="0.12">hydroquinone: oxygen oxidoreductase activity</text>
<text transform="translate(1351.40 1663.00) rotate(-45)" font-size="22.4" text-anchor="end" stroke="#000" stroke-width="0.12">cysteamine dioxygenase activity</text>
<rect x="521.80" y="1087.20" width="24.00" height="29.60" fill="#fff1f1"/>
<rect x="523.20" y="1088.60" width="21.20" height="26.80" fill="#ffd2d2"/>
<rect x="524.60" y="1090.00" width="18.40" height="24.00" fill="#e15858"/>
<rect x="526.60" y="1092.00" width="14.40" height="20.00" fill="#c61212"/>
<rect x="528.10" y="1093.50" width="11.40" height="17.00" fill="#ea0808"/>
<rect x="529.40" y="1094.80" width="8.80" height="14.40" fill="#fe0000"/>
<text transform="translate(563.60 1109.00) scale(1.0 0.955)" font-size="28.8" stroke="#000" stroke-width="0.25">biological process</text>
<rect x="929.90" y="1088.00" width="24.90" height="28.80" fill="#effeff"/>
<rect x="931.30" y="1089.40" width="22.10" height="26.00" fill="#cdfaff"/>
<rect x="932.70" y="1090.80" width="19.30" height="23.20" fill="#35abdc"/>
<rect x="934.20" y="1092.30" width="16.30" height="20.20" fill="#16b4f0"/>
<rect x="935.50" y="1093.60" width="13.70" height="17.60" fill="#02befe"/>
<text transform="translate(966.50 1105.50) scale(1.0 0.955)" font-size="28.8" stroke="#000" stroke-width="0.25">molecular function</text>
<text transform="translate(384.20 1325.00) rotate(-90)" font-size="28.8" text-anchor="middle" stroke="#000" stroke-width="0.25">-log10 Pvalue</text>
<line x1="359.60" y1="1840.40" x2="542.30" y2="1656.50" stroke="#000" stroke-width="2.0"/>
<line x1="846.30" y1="1772.30" x2="947.00" y2="1671.20" stroke="#000" stroke-width="2.0"/>
<line x1="864.30" y1="1793.70" x2="993.00" y2="1671.20" stroke="#000" stroke-width="2.0"/>
<rect x="1630.00" y="691.20" width="62.00" height="82.00" fill="#00aeef" stroke="#000" stroke-width="2.4"/>
<rect x="1723.40" y="689.40" width="61.60" height="83.80" fill="#ffc000" stroke="#000" stroke-width="2.4"/>
<rect x="1878.90" y="414.70" width="61.70" height="358.50" fill="#00aeef" stroke="#000" stroke-width="2.4"/>
<rect x="1971.90" y="275.70" width="61.40" height="497.50" fill="#ffc000" stroke="#000" stroke-width="2.4"/>
<line x1="1598.70" y1="66.50" x2="1598.70" y2="774.60" stroke="#000" stroke-width="2.8"/>
<line x1="1585.50" y1="773.20" x2="2071.00" y2="773.20" stroke="#000" stroke-width="2.7"/>
<text transform="translate(1577.80 783.70) scale(1.0 1.09)" font-size="28.3" text-anchor="end" stroke="#000" stroke-width="0.25">0.0</text>
<line x1="1585.50" y1="632.14" x2="1598.70" y2="632.14" stroke="#000" stroke-width="2.8"/>
<text transform="translate(1577.80 642.64) scale(1.0 1.09)" font-size="28.3" text-anchor="end" stroke="#000" stroke-width="0.25">0.2</text>
<line x1="1585.50" y1="491.08" x2="1598.70" y2="491.08" stroke="#000" stroke-width="2.8"/>
<text transform="translate(1577.80 501.58) scale(1.0 1.09)" font-size="28.3" text-anchor="end" stroke="#000" stroke-width="0.25">0.4</text>
<line x1="1585.50" y1="350.02" x2="1598.70" y2="350.02" stroke="#000" stroke-width="2.8"/>
<text transform="translate(1577.80 360.52) scale(1.0 1.09)" font-size="28.3" text-anchor="end" stroke="#000" stroke-width="0.25">0.6</text>
<line x1="1585.50" y1="208.96" x2="1598.70" y2="208.96" stroke="#000" stroke-width="2.8"/>
<text transform="translate(1577.80 219.46) scale(1.0 1.09)" font-size="28.3" text-anchor="end" stroke="#000" stroke-width="0.25">0.8</text>
<line x1="1585.50" y1="67.90" x2="1598.70" y2="67.90" stroke="#000" stroke-width="2.8"/>
<text transform="translate(1577.80 78.40) scale(1.0 1.09)" font-size="28.3" text-anchor="end" stroke="#000" stroke-width="0.25">1.0</text>
<line x1="1660.00" y1="773.20" x2="1660.00" y2="788.80" stroke="#000" stroke-width="2.7"/>
<line x1="1753.90" y1="773.20" x2="1753.90" y2="788.80" stroke="#000" stroke-width="2.7"/>
<line x1="1909.40" y1="773.20" x2="1909.40" y2="788.80" stroke="#000" stroke-width="2.7"/>
<line x1="2002.40" y1="773.20" x2="2002.40" y2="788.80" stroke="#000" stroke-width="2.7"/>
<line x1="1660.80" y1="683.80" x2="1660.80" y2="694.00" stroke="#000" stroke-width="3.4"/>
<line x1="1644.80" y1="683.80" x2="1676.80" y2="683.80" stroke="#000" stroke-width="3.4"/>
<line x1="1644.80" y1="694.00" x2="1676.80" y2="694.00" stroke="#000" stroke-width="3.4"/>
<circle cx="1641.70" cy="694.00" r="5.2" fill="#000"/>
<circle cx="1660.80" cy="683.80" r="5.2" fill="#000"/>
<circle cx="1679.00" cy="689.30" r="5.2" fill="#000"/>
<line x1="1754.60" y1="682.40" x2="1754.60" y2="693.00" stroke="#000" stroke-width="3.4"/>
<line x1="1738.60" y1="682.40" x2="1770.60" y2="682.40" stroke="#000" stroke-width="3.4"/>
<line x1="1738.60" y1="693.00" x2="1770.60" y2="693.00" stroke="#000" stroke-width="3.4"/>
<circle cx="1735.00" cy="693.00" r="5.2" fill="#000"/>
<circle cx="1754.60" cy="682.40" r="5.2" fill="#000"/>
<circle cx="1772.00" cy="687.50" r="5.2" fill="#000"/>
<line x1="1909.40" y1="366.50" x2="1909.40" y2="460.30" stroke="#000" stroke-width="3.4"/>
<line x1="1893.40" y1="366.50" x2="1925.40" y2="366.50" stroke="#000" stroke-width="3.4"/>
<line x1="1893.40" y1="460.30" x2="1925.40" y2="460.30" stroke="#000" stroke-width="3.4"/>
<circle cx="1909.40" cy="371.00" r="5.2" fill="#000"/>
<circle cx="1909.40" cy="407.00" r="5.2" fill="#000"/>
<circle cx="1909.40" cy="464.00" r="5.2" fill="#000"/>
<line x1="2002.40" y1="221.30" x2="2002.40" y2="329.00" stroke="#000" stroke-width="3.4"/>
<line x1="1986.40" y1="221.30" x2="2018.40" y2="221.30" stroke="#000" stroke-width="3.4"/>
<line x1="1986.40" y1="329.00" x2="2018.40" y2="329.00" stroke="#000" stroke-width="3.4"/>
<circle cx="2002.40" cy="220.00" r="5.2" fill="#000"/>
<circle cx="2002.40" cy="279.40" r="5.2" fill="#000"/>
<circle cx="2002.40" cy="327.00" r="5.2" fill="#000"/>
<text x="1659.40" y="657.30" font-size="28.3" text-anchor="middle" stroke="#000" stroke-width="0.25">c</text>
<text x="1755.70" y="647.60" font-size="28.3" text-anchor="middle" stroke="#000" stroke-width="0.25">c</text>
<text x="1909.00" y="345.60" font-size="28.3" text-anchor="middle" stroke="#000" stroke-width="0.25">b</text>
<text x="1999.80" y="190.40" font-size="28.3" text-anchor="middle" stroke="#000" stroke-width="0.25">a</text>
<text x="1707.00" y="822.80" font-size="28.3" text-anchor="middle" stroke="#000" stroke-width="0.25">0h</text>
<text x="1956.00" y="822.80" font-size="28.3" text-anchor="middle" stroke="#000" stroke-width="0.25">48h</text>
<line x1="1653.50" y1="835.30" x2="2014.00" y2="835.30" stroke="#000" stroke-width="3"/>
<text x="1827.80" y="875.40" font-size="28.3" text-anchor="middle" stroke="#000" stroke-width="0.25">HPI</text>
<rect x="1632.50" y="79.00" width="23.30" height="23.60" fill="#00aeef" stroke="#000" stroke-width="2.4"/>
<text x="1674.80" y="100.40" font-size="28.3" stroke="#000" stroke-width="0.25">TG394</text>
<rect x="1782.00" y="78.80" width="23.60" height="23.40" fill="#ffc000" stroke="#000" stroke-width="2.4"/>
<text x="1825.50" y="97.40" font-size="28.3" stroke="#000" stroke-width="0.25">TG394-<tspan font-style="italic">SBRR1</tspan></text>
<text x="2020.50" y="89.50" font-size="24.5" stroke="#000" stroke-width="0.25" font-style="italic">R</text>
<text transform="translate(1476.30 443.20) rotate(-90) scale(1.01 1.0)" font-size="28.3" text-anchor="middle" stroke="#000" stroke-width="0.25">Chitinase activity</text>
<text transform="translate(1510.60 446.80) rotate(-90) scale(1.029 1.0)" font-size="28.3" text-anchor="middle" stroke="#000" stroke-width="0.25">[N-acety-glucosamine mg/(g.h)]</text>
</svg>
</body></html>
